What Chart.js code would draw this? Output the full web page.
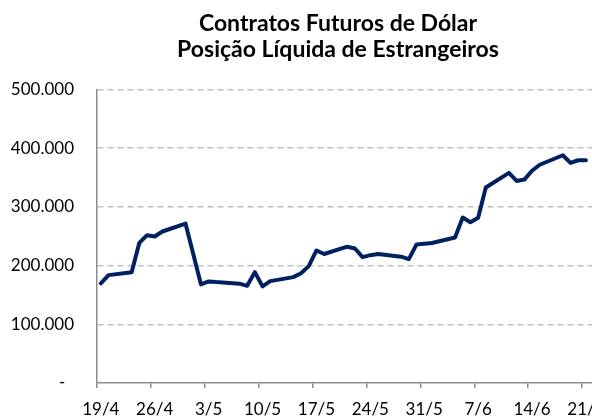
<!DOCTYPE html>
<html>
<head>
<meta charset="utf-8">
<script src="https://cdn.jsdelivr.net/npm/chart.js@4/dist/chart.umd.min.js"></script>
<style>
  html, body { margin: 0; padding: 0; background: #fff; overflow: hidden; }
  #wrap { position: relative; width: 676px; height: 417px; }
</style>
</head>
<body>
<div id="wrap"><canvas id="c"></canvas></div>
<script>
// Contratos futuros de dólar - posição líquida de estrangeiros (abr-jun)
const dates = [
  '19/4', '20/4', '23/4', '24/4', '25/4', '26/4', '27/4', '30/4',
  '2/5', '3/5', '4/5', '7/5', '8/5', '9/5', '10/5', '11/5',
  '14/5', '15/5', '16/5', '17/5', '18/5', '21/5', '22/5', '23/5', '24/5', '25/5',
  '28/5', '29/5', '30/5', '31/5', '1/6', '4/6', '5/6', '6/6', '7/6', '8/6',
  '11/6', '12/6', '13/6', '14/6', '15/6', '18/6', '19/6', '20/6', '21/6',
];
const posicao = [
  169600, 183700, 188400, 238600, 251700, 249500, 258000, 271300,
  168000, 173000, 171800, 169200, 165500, 188800, 164500, 173500,
  180300, 187000, 199000, 225700, 219700, 232100, 229000, 214300, 217700, 219700,
  215100, 210900, 236000, 237200, 238400, 247800, 281800, 273800, 281500, 332800,
  357700, 344000, 346400, 361400, 371600, 387800, 374700, 379300, 379300,
];
const tickLabels = ['19/4', '26/4', '3/5', '10/5', '17/5', '24/5', '31/5', '7/6', '14/6', '21/6', '28/6'];
const yTicks = [0, 100000, 200000, 300000, 400000, 500000];

// dias corridos desde 19/4
const monthStart = { 4: -19, 5: 11, 6: 42, 7: 72 };
function dayIndex(s) {
  const [d, m] = s.split('/').map(Number);
  return monthStart[m] + d;
}

const fmt = v => (v === 0 ? '-  ' : String(v).replace(/\B(?=(\d{3})+(?!\d))/g, '.'));
const axisGray = '#8c8c8c';
const font = { family: 'Lato', size: 17 };

new Chart(document.getElementById('c'), {
  type: 'line',
  data: {
    datasets: [{
      data: dates.map((d, i) => ({ x: dayIndex(d), y: posicao[i] })),
      borderColor: '#002060',
      borderWidth: 4,
      pointRadius: 0,
      tension: 0,
      borderJoinStyle: 'round',
      borderCapStyle: 'round',
    }],
  },
  options: {
    responsive: true,
    maintainAspectRatio: false,
    animation: false,
    layout: { padding: 0 },
    plugins: {
      legend: { display: false },
      tooltip: { enabled: false },
      title: {
        display: true,
        text: ['Contratos Futuros de Dólar', 'Posição Líquida de Estrangeiros'],
        color: '#000',
        font: { family: 'Lato', size: 23, weight: 'bold', lineHeight: 1.16 },
        padding: { top: 10, bottom: 26 },
      },
    },
    scales: {
      x: {
        type: 'linear',
        min: -0.5,
        max: 74.7,
        afterFit: s => { s.height = 34; },
        afterBuildTicks: s => { s.ticks = tickLabels.map(l => ({ value: dayIndex(l) - 0.5 })); },
        ticks: {
          autoSkip: false,
          maxRotation: 0,
          padding: 11,
          labelOffset: 3.85,
          color: '#000',
          font,
          callback: (v, i) => tickLabels[i],
        },
        grid: { drawOnChartArea: false, drawTicks: true, tickLength: 5, color: axisGray, lineWidth: 1.5 },
        border: { display: true, color: axisGray, width: 1.5 },
      },
      y: {
        min: 0,
        max: 500000,
        afterFit: s => { s.width = 97; },
        afterBuildTicks: s => { s.ticks = yTicks.map(v => ({ value: v })); },
        ticks: { padding: 23, color: '#000', font, callback: v => fmt(v) },
        grid: {
          drawTicks: false,
          color: c => (c.tick && c.tick.value === 0 ? 'rgba(0,0,0,0)' : '#c0c0c0'),
          lineWidth: 1.5,
        },
        border: { display: true, color: axisGray, width: 1.5, dash: [6, 4] },
      },
    },
  },
});
</script>
</body>
</html>
